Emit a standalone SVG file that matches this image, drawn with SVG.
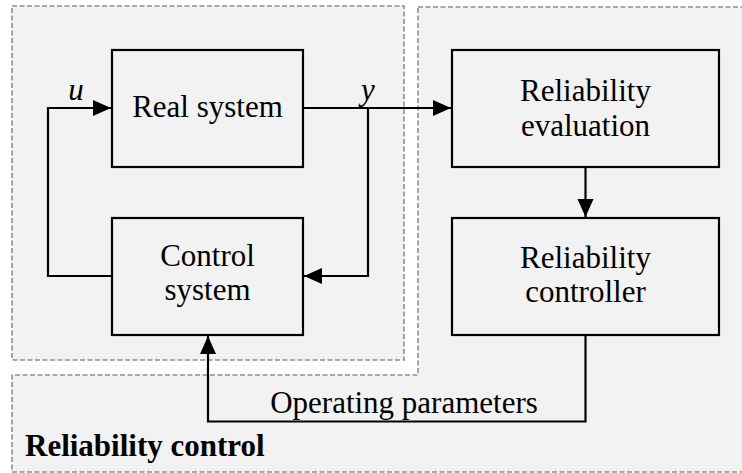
<svg xmlns="http://www.w3.org/2000/svg" width="742" height="473" viewBox="0 0 742 473">
<defs>
<style>
.region{fill:#f2f2f2;stroke:#8f8f8f;stroke-width:1.6;stroke-dasharray:5 2.5}
.box{fill:#f2f2f2;stroke:#000;stroke-width:2.2}
.conn{fill:none;stroke:#000;stroke-width:2.2}
</style>
<marker id="ah" markerUnits="userSpaceOnUse" markerWidth="20" markerHeight="18" refX="18" refY="8" orient="auto">
<path d="M0,0 L18,8 L0,16 Z" fill="#000"/>
</marker>
</defs>
<rect width="742" height="473" fill="#fff"/>
<g id="reliability-control">
<path class="region" d="M418,7 H750 V472 H12 V375 H418 Z"/>
<text style="font-family:'Liberation Serif','Times New Roman',Times,serif" font-size="31" font-weight="bold" x="25" y="456">Reliability control</text>
</g>
<g id="system-region">
<rect class="region" x="12" y="6" width="392" height="354"/>
</g>
<g id="real-system">
<rect class="box" x="112" y="50" width="191" height="117"/>
<text style="font-family:'Liberation Serif','Times New Roman',Times,serif" font-size="31" text-anchor="middle" x="207.5" y="117">Real system</text>
</g>
<g id="control-system">
<rect class="box" x="112" y="218" width="191" height="117"/>
<text style="font-family:'Liberation Serif','Times New Roman',Times,serif" font-size="31" text-anchor="middle" x="207.5" y="266">Control</text>
<text style="font-family:'Liberation Serif','Times New Roman',Times,serif" font-size="31" text-anchor="middle" x="207.5" y="300">system</text>
</g>
<g id="reliability-evaluation">
<rect class="box" x="452" y="50" width="267" height="117"/>
<text style="font-family:'Liberation Serif','Times New Roman',Times,serif" font-size="31" text-anchor="middle" x="585.5" y="101">Reliability</text>
<text style="font-family:'Liberation Serif','Times New Roman',Times,serif" font-size="31" text-anchor="middle" x="585.5" y="136">evaluation</text>
</g>
<g id="reliability-controller">
<rect class="box" x="452" y="218" width="267" height="117"/>
<text style="font-family:'Liberation Serif','Times New Roman',Times,serif" font-size="31" text-anchor="middle" x="585.5" y="268">Reliability</text>
<text style="font-family:'Liberation Serif','Times New Roman',Times,serif" font-size="31" text-anchor="middle" x="585.5" y="302">controller</text>
</g>
<g id="connectors">
<path class="conn" d="M112,276 H48 V108 H111" marker-end="url(#ah)"/>
<path class="conn" d="M303,108 H451" marker-end="url(#ah)"/>
<path class="conn" d="M368,108 V276 H304" marker-end="url(#ah)"/>
<path class="conn" d="M585.5,167 V217" marker-end="url(#ah)"/>
<path class="conn" d="M585.5,335 V421.5 H208 V336" marker-end="url(#ah)"/>
<text style="font-family:'Liberation Serif','Times New Roman',Times,serif" font-size="31" font-style="italic" text-anchor="middle" x="76" y="100">u</text>
<text style="font-family:'Liberation Serif','Times New Roman',Times,serif" font-size="31" font-style="italic" text-anchor="middle" x="368" y="100">y</text>
<text style="font-family:'Liberation Serif','Times New Roman',Times,serif" font-size="31" text-anchor="middle" x="404" y="413">Operating parameters</text>
</g>
</svg>
